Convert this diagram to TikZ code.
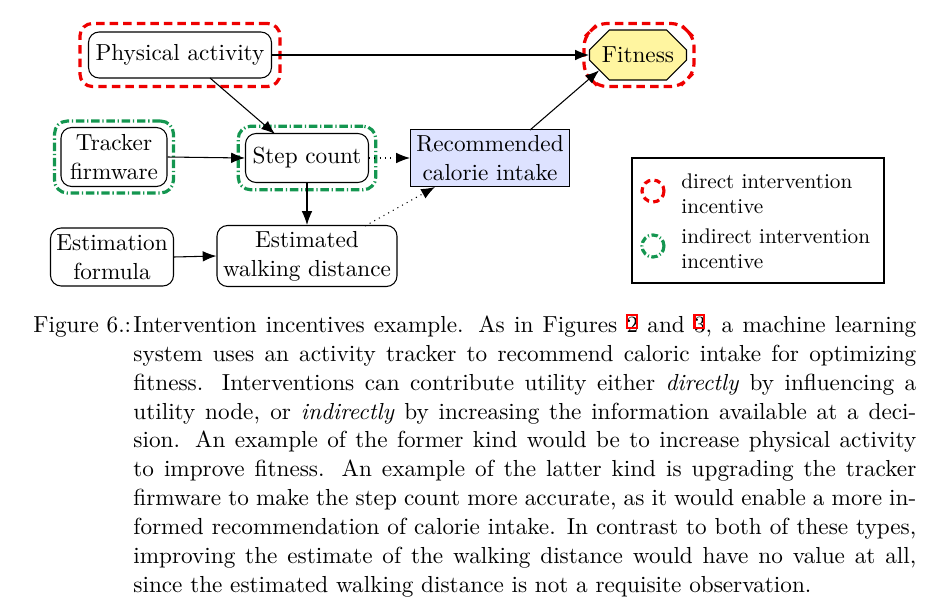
\documentclass[tikz,border=0pt]{standalone}
\usetikzlibrary{shapes.misc,arrows.meta,fit}
\definecolor{fitY}{RGB}{255,245,160}
\definecolor{recB}{RGB}{221,226,255}
\definecolor{incR}{RGB}{238,0,0}
\definecolor{incG}{RGB}{20,150,80}
\newcommand{\lnk}[1]{#1\llap{\raisebox{2.6pt}{\setlength{\fboxsep}{0pt}\setlength{\fboxrule}{1pt}\textcolor{red}{\fbox{\rule{0pt}{5.2pt}\hspace{3.6pt}}}}\hspace{0.2pt}}}
\begin{document}
\begin{tikzpicture}[x=0.4717pt,y=-0.4717pt,
  font=\fontsize{10.95}{13.6}\selectfont,
  nd/.style={draw, rounded corners=5pt, align=center, inner sep=1pt, line width=0.5pt},
  dirinc/.style={draw=incR, dash pattern=on 4pt off 2.4pt, line width=1.5pt, rounded corners=6pt},
  indinc/.style={draw=incG, dash pattern=on 4pt off 1.3pt on 0.6pt off 1.3pt, line width=1.5pt, rounded corners=6pt},
  arr/.style={-{Latex[length=6.5pt,width=5pt]}, line width=0.5pt},
  darr/.style={arr, dotted},
  legtext/.style={anchor=west, align=left, inner sep=0, font=\fontsize{10}{12}\selectfont}
]
\useasboundingbox (0,0) rectangle (949,606);

% nodes
\node[nd, minimum width=183*0.4717pt, minimum height=46*0.4717pt] (pa) at (180,55) {Physical activity};
\node[draw, chamfered rectangle, chamfered rectangle xsep=4.7pt, chamfered rectangle ysep=4.7pt, fill=fitY, line width=0.5pt, minimum width=97*0.4717pt, minimum height=50*0.4717pt, inner sep=1pt] (fit) at (638,55) {Fitness};
\node[nd, minimum width=106*0.4717pt, minimum height=59*0.4717pt] (tf) at (114,157) {Tracker\\firmware};
\node[nd, minimum width=123*0.4717pt, minimum height=49*0.4717pt] (sc) at (307,158) {Step count};
\node[draw, fill=recB, align=center, inner sep=1pt, line width=0.5pt, minimum width=159*0.4717pt, minimum height=57*0.4717pt] (rc) at (490,158) {Recommended\\calorie intake};
\node[nd, minimum width=123*0.4717pt, minimum height=58*0.4717pt] (ef) at (112,257) {Estimation\\formula};
\node[nd, minimum width=180*0.4717pt, minimum height=61*0.4717pt] (ew) at (307,256) {Estimated\\walking distance};

% incentive outlines
\node[dirinc, fit=(pa), inner sep=3.8pt] (pao) {};
\node[draw=incR, dash pattern=on 4pt off 2.4pt, line width=1.5pt, chamfered rectangle, chamfered rectangle xsep=7pt, chamfered rectangle ysep=7pt, rounded corners=4pt, minimum width=110*0.4717pt, minimum height=63*0.4717pt] (fito) at (639,55) {};
\node[indinc, fit=(tf), inner sep=2.8pt] (tfo) {};
\node[indinc, fit=(sc), inner sep=3.2pt] (sco) {};

% helper coordinates
\coordinate (pa1) at (210,78);
\coordinate (sc1) at (275,134);
\coordinate (ew1) at (365,226);
\coordinate (rc1) at (435,187);
\coordinate (rc2) at (530,130);

% edges
\draw[arr] (pa.east) -- (fit.west);
\draw[arr] (pa1) -- (sc1);
\draw[arr] (tf.east) -- (sc.west);
\draw[darr] (sc.east) -- (rc.west);
\draw[arr] (sc.south) -- (ew.north);
\draw[arr] (ef.east) -- (ew.west);
\draw[darr] (ew1) -- (rc1);
\draw[arr] (rc2) -- (fit.south west);

% legend
\node[draw, line width=0.5pt, minimum width=252*0.4717pt, minimum height=125*0.4717pt] (leg) at (758,220.5) {};
\draw[incR, dash pattern=on 3pt off 2pt, line width=1.5pt] (653,191) circle (11);
\draw[incG, dash pattern=on 3pt off 1.2pt on 0.5pt off 1.2pt, line width=1.5pt] (653,246) circle (11);
\node[legtext] (l1) at (681,194) {direct intervention\\incentive};
\node[legtext] (l2) at (681,249) {indirect intervention\\incentive};

% caption
\node[anchor=north west, inner sep=0] (capl) at (33,312) {\strut Figure 6.:};
\node[anchor=north west, inner sep=0, text width=369.3pt, align=justify] (cap) at (133,312) {\strut Intervention incentives example.  As in Figures \lnk{2} and \lnk{3}, a machine learning\linebreak
system uses an activity tracker to recommend caloric intake for optimizing\linebreak
fitness.  Interventions can contribute utility either \emph{directly} by influencing a\linebreak
utility node, or \emph{indirectly} by increasing the information available at a deci-\linebreak
sion.  An example of the former kind would be to increase physical activity\linebreak
to improve fitness.  An example of the latter kind is upgrading the tracker\linebreak
firmware to make the step count more accurate, as it would enable a more in-\linebreak
formed recommendation of calorie intake. In contrast to both of these types,\linebreak
improving the estimate of the walking distance would have no value at all,\linebreak
since the estimated walking distance is not a requisite observation.};
\end{tikzpicture}
\end{document}
